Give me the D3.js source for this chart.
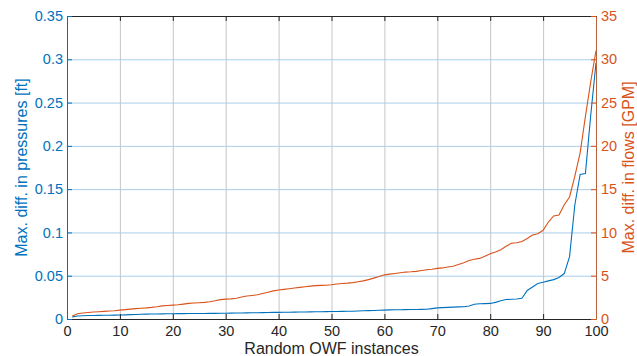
<!DOCTYPE html>
<html>
<head>
<meta charset="utf-8">
<script src="https://cdn.jsdelivr.net/npm/d3@7"></script>
<style>
  body { margin: 0; background: #fff; }
  svg text { font-family: "Liberation Sans", Arial, Helvetica, sans-serif; }
</style>
</head>
<body>
<div id="chart"></div>
<script>
// sorted max. differences per random OWF instance (1..100)
const pressureDiff = [
  0.0025, 0.0035, 0.0038, 0.0040, 0.0041, 0.0042, 0.0043, 0.0044, 0.0045, 0.0046,
  0.0048, 0.0050, 0.0052, 0.0054, 0.0056, 0.0057, 0.0058, 0.0059, 0.0060, 0.0061,
  0.0062, 0.0062, 0.0063, 0.0063, 0.0064, 0.0064, 0.0065, 0.0065, 0.0066, 0.0067,
  0.0068, 0.0069, 0.0070, 0.0071, 0.0072, 0.0073, 0.0074, 0.0075, 0.0076, 0.0077,
  0.0078, 0.0078, 0.0079, 0.0080, 0.0081, 0.0082, 0.0083, 0.0084, 0.0085, 0.0086,
  0.0087, 0.0088, 0.0089, 0.0090, 0.0092, 0.0095, 0.0097, 0.0099, 0.0101, 0.0103,
  0.0105, 0.0106, 0.0107, 0.0108, 0.0109, 0.0110, 0.0111, 0.0112, 0.0120, 0.0128,
  0.0131, 0.0134, 0.0137, 0.0140, 0.0142, 0.0150, 0.0170, 0.0176, 0.0178, 0.0180,
  0.0192, 0.0210, 0.0225, 0.0228, 0.0231, 0.0240, 0.0330, 0.0370, 0.0410, 0.0425,
  0.0440, 0.0455, 0.0480, 0.0525, 0.0720, 0.1320, 0.1670, 0.1680, 0.2350, 0.2960
];
const flowDiff = [
  0.35, 0.60, 0.70, 0.75, 0.80, 0.84, 0.88, 0.92, 0.96, 1.02,
  1.08, 1.14, 1.20, 1.24, 1.28, 1.34, 1.42, 1.52, 1.56, 1.60,
  1.64, 1.72, 1.80, 1.84, 1.88, 1.92, 2.00, 2.10, 2.24, 2.30,
  2.32, 2.40, 2.55, 2.65, 2.72, 2.80, 2.95, 3.10, 3.25, 3.35,
  3.42, 3.50, 3.58, 3.65, 3.72, 3.80, 3.85, 3.88, 3.90, 3.95,
  4.05, 4.10, 4.14, 4.20, 4.30, 4.40, 4.55, 4.72, 4.90, 5.10,
  5.18, 5.26, 5.35, 5.42, 5.45, 5.50, 5.60, 5.68, 5.75, 5.85,
  5.90, 6.00, 6.10, 6.30, 6.50, 6.75, 6.90, 7.00, 7.25, 7.55,
  7.75, 8.00, 8.40, 8.75, 8.80, 8.95, 9.30, 9.70, 9.85, 10.25,
  11.20, 11.90, 12.00, 13.20, 14.10, 16.50, 19.20, 23.40, 27.40, 31.00
];
const xTicks = [0, 10, 20, 30, 40, 50, 60, 70, 80, 90, 100];
const leftTicks = [0, 0.05, 0.1, 0.15, 0.2, 0.25, 0.3, 0.35];
const rightTicks = [0, 5, 10, 15, 20, 25, 30, 35];

const blue = '#0072BD', orange = '#D95319';
const margin = {top: 16, right: 41, bottom: 37, left: 67},
    W = 637, H = 356,
    width = W - margin.left - margin.right,
    height = H - margin.top - margin.bottom;

const svg = d3.select('#chart').append('svg')
    .attr('width', W).attr('height', H);
const g = svg.append('g')
    .attr('transform', `translate(${margin.left},${margin.top})`);

const x = d3.scaleLinear().domain([0, 100]).range([0, width]);
const yL = d3.scaleLinear().domain([0, 0.35]).range([height, 0]);
const yR = d3.scaleLinear().domain([0, 35]).range([height, 0]);

// grid
g.append('g')
    .attr('transform', `translate(0,${height})`)
    .call(d3.axisBottom(x).tickValues(xTicks).tickSize(-height).tickFormat(''))
    .call(a => a.select('.domain').remove())
    .selectAll('line').attr('stroke', '#c6c6c6');
g.append('g')
    .call(d3.axisLeft(yL).tickValues(leftTicks).tickSize(-width).tickFormat(''))
    .call(a => a.select('.domain').remove())
    .selectAll('line').attr('stroke', '#a9cde8');

// data lines
const idx = d3.range(1, 101);
g.append('path')
    .datum(idx)
    .attr('fill', 'none').attr('stroke', blue).attr('stroke-width', 1.1)
    .attr('d', d3.line().x(i => x(i)).y(i => yL(pressureDiff[i - 1])));
g.append('path')
    .datum(idx)
    .attr('fill', 'none').attr('stroke', orange).attr('stroke-width', 1.1)
    .attr('d', d3.line().x(i => x(i)).y(i => yR(flowDiff[i - 1])));

// axes
const xAx = g.append('g')
    .attr('transform', `translate(0,${height})`)
    .call(d3.axisBottom(x).tickValues(xTicks).tickSizeInner(-5).tickSizeOuter(0).tickPadding(7));
xAx.select('.domain').attr('stroke', '#262626');
xAx.selectAll('line').attr('stroke', '#262626');
xAx.selectAll('text').attr('fill', '#262626').style('font-size', '14.5px');

const topAx = g.append('g')
    .call(d3.axisTop(x).tickValues(xTicks).tickSizeInner(-5).tickSizeOuter(0).tickFormat(''));
topAx.select('.domain').attr('stroke', '#262626');
topAx.selectAll('line').attr('stroke', '#262626');

const lAx = g.append('g')
    .call(d3.axisLeft(yL).tickValues(leftTicks).tickSizeInner(-5).tickSizeOuter(0).tickPadding(4)
        .tickFormat(d => d3.format('')(+d.toFixed(2))));
lAx.select('.domain').attr('stroke', blue);
lAx.selectAll('line').attr('stroke', blue);
lAx.selectAll('text').attr('fill', blue).style('font-size', '14.5px');

const rAx = g.append('g')
    .attr('transform', `translate(${width},0)`)
    .call(d3.axisRight(yR).tickValues(rightTicks).tickSizeInner(-5).tickSizeOuter(0).tickPadding(5));
rAx.select('.domain').attr('stroke', '#b8613a');
rAx.selectAll('line').attr('stroke', orange);
rAx.selectAll('text').attr('fill', orange).style('font-size', '14.5px');

// axis labels
svg.append('text')
    .attr('x', margin.left + width / 2).attr('y', 354)
    .attr('text-anchor', 'middle').attr('fill', '#262626')
    .style('font-size', '16px')
    .text('Random OWF instances');
svg.append('text')
    .attr('transform', `translate(27,${margin.top + height / 2}) rotate(-90)`)
    .attr('text-anchor', 'middle').attr('fill', blue)
    .style('font-size', '16px')
    .text('Max. diff. in pressures [ft]');
svg.append('text')
    .attr('transform', `translate(634,${margin.top + height / 2}) rotate(-90)`)
    .attr('text-anchor', 'middle').attr('fill', orange)
    .style('font-size', '16px')
    .text('Max. diff. in flows [GPM]');
</script>
</body>
</html>
